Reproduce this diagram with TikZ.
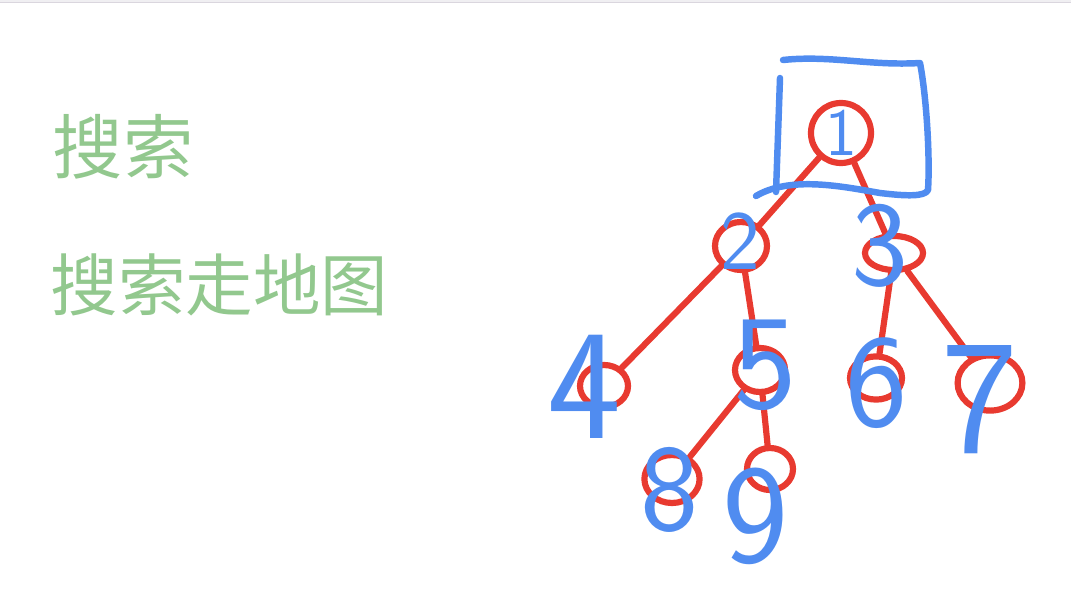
\documentclass[tikz,border=0pt]{standalone}
\usepackage{fontspec}
\usepackage{tikz}
\usetikzlibrary{shapes.geometric, positioning}
\newfontfamily\cjk{Noto Sans CJK SC}
\definecolor{penred}{RGB}{232,58,48}
\definecolor{penblue}{RGB}{80,140,240}
\definecolor{pengreen}{RGB}{146,200,142}
\definecolor{framegray}{RGB}{218,214,222}

\begin{document}
\begin{tikzpicture}[x=0.025cm, y=-0.025cm,
  ring/.style={draw=penred, line width=4.4pt, ellipse, inner sep=0pt},
  link/.style={penred, line width=4.4pt, line cap=round},
  digit/.style={text=penblue, inner sep=0pt, font=\sffamily\fontsize{#1}{#1}\selectfont},
  penline/.style={penblue, line width=4.6pt, line cap=round, line join=round}]
  \useasboundingbox (0,0) rectangle (1071,609);
  \fill[framegray!40] (0,0) rectangle (1071,2);
  \draw[framegray, line width=0.8pt] (0,2.5) -- (1071,2.5);
  % green notes
  \node[pengreen, anchor=west, font=\cjk\fontsize{50}{50}\selectfont] (title) at (48,147) {搜索};
  \node[pengreen, anchor=west, font=\cjk\fontsize{48}{48}\selectfont] (subtitle) at (46,285) {搜索走地图};
  % red rings
  \node[ring, minimum width=1.5cm, minimum height=1.5cm] (c1) at (841,133) {};
  \node[ring, minimum width=1.3cm, minimum height=1.2cm] (c2) at (741,246) {};
  \node[ring, minimum width=1.45cm, minimum height=0.85cm] (c3) at (894,253) {};
  \node[ring, minimum width=1.2cm, minimum height=1.05cm] (c4) at (604,386) {};
  \node[ring, minimum width=1.25cm, minimum height=1.1cm] (c5) at (760,370) {};
  \node[ring, minimum width=1.3cm, minimum height=1.08cm] (c6) at (876,378) {};
  \node[ring, minimum width=1.62cm, minimum height=1.38cm] (c7) at (990,383) {};
  \node[ring, minimum width=1.38cm, minimum height=1.2cm] (c8) at (672,479) {};
  \node[ring, minimum width=1.15cm, minimum height=1.05cm] (c9) at (770,469) {};
  % links
  \draw[link] (c1) -- (c2);
  \draw[link] (c1) -- (c3);
  \draw[link] (c2) -- (c4);
  \draw[link] (c2) -- (c5);
  \draw[link] (c3) -- (c6);
  \draw[link] (c3) -- (c7);
  \draw[link] (c5) -- (c8);
  \draw[link] (c5) -- (c9);
  % blue frame round the root
  \draw[penline] (783,60) .. controls (830,55) and (870,66) .. (920,63)
    .. controls (927,100) and (930,160) .. (928,190)
    .. controls (925,197) and (905,196) .. (880,193)
    .. controls (840,186) and (790,176) .. (756,196);
  \draw[penline] (780,78) -- (776,192);
  % blue digits
  \node[digit=48] (d1) at (841,133) {1};
  \node[digit=60] (d2) at (740,241) {2};
  \node[digit=86] (d3) at (880,246) {3};
  \node[digit=112] (d4) at (585,387) {4};
  \node[digit=96] (d5) at (765,365) {5};
  \node[digit=94] (d6) at (877,383) {6};
  \node[digit=116] (d7) at (980,400) {7};
  \node[digit=88] (d8) at (670,490) {8};
  \node[digit=100] (d9) at (756,516) {9};
\end{tikzpicture}
\end{document}
